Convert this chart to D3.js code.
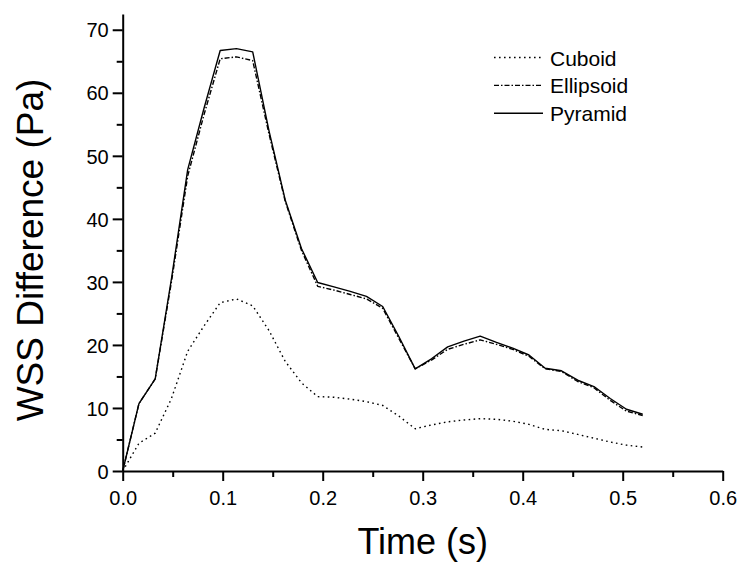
<!DOCTYPE html>
<html>
<head>
<meta charset="utf-8">
<script src="https://cdn.jsdelivr.net/npm/d3@7"></script>
<style>
  html, body { margin: 0; padding: 0; background: #fff; }
  svg { display: block; font-family: "Liberation Sans", Arial, sans-serif; }
</style>
</head>
<body>
<svg id="chart" width="737" height="563"></svg>
<script>
// ---- data ----
const time = [0, 0.01625, 0.0325, 0.04875, 0.065, 0.08125, 0.0975, 0.11375, 0.13, 0.14625,
  0.1625, 0.17875, 0.195, 0.21125, 0.2275, 0.24375, 0.26, 0.27625, 0.2925, 0.30875,
  0.325, 0.34125, 0.3575, 0.37375, 0.39, 0.40625, 0.4225, 0.43875, 0.455, 0.47125,
  0.4875, 0.50375, 0.52];
const cuboid = [0, 4.4, 6.0, 11.5, 19.0, 23.0, 26.7, 27.3, 26.2, 22.3,
  17.4, 14.0, 11.8, 11.7, 11.4, 11.0, 10.4, 8.7, 6.7, 7.3,
  7.8, 8.1, 8.3, 8.2, 7.9, 7.4, 6.6, 6.4, 5.8, 5.2,
  4.6, 4.1, 3.8];
const ellipsoid = [0, 10.7, 14.6, 30.0, 46.8, 56.5, 65.4, 65.7, 65.1, 53.5,
  42.8, 35.0, 29.3, 28.7, 28.0, 27.3, 25.8, 21.0, 16.2, 17.6,
  19.3, 20.1, 20.8, 20.1, 19.3, 18.2, 16.2, 15.8, 14.2, 13.2,
  11.2, 9.5, 8.8];
const pyramid = [0, 10.7, 14.6, 30.5, 47.8, 57.5, 66.7, 67.0, 66.5, 54.0,
  43.0, 35.3, 29.9, 29.2, 28.5, 27.7, 26.1, 21.3, 16.2, 17.8,
  19.7, 20.6, 21.4, 20.4, 19.5, 18.4, 16.3, 15.9, 14.4, 13.4,
  11.5, 9.8, 9.0];
const seriesNames = ["Cuboid", "Ellipsoid", "Pyramid"];
const xTicks = [0, 0.1, 0.2, 0.3, 0.4, 0.5, 0.6];
const yTicks = [0, 10, 20, 30, 40, 50, 60, 70];

// ---- layout ----
const svg = d3.select("#chart");
const x = d3.scaleLinear().domain([0, 0.6]).range([122.7, 722.7]);
const y = d3.scaleLinear().domain([0, 72.5]).range([471, 14]);

const dashes = { Cuboid: "1.6,3.4", Ellipsoid: "5,2,1.5,2", Pyramid: null };
const series = [
  { name: "Cuboid", values: cuboid },
  { name: "Ellipsoid", values: ellipsoid },
  { name: "Pyramid", values: pyramid }
];

// lines
const line = d3.line().x((d, i) => x(time[i])).y(d => y(d));
svg.append("g").selectAll("path").data(series).join("path")
  .attr("d", d => line(d.values))
  .attr("fill", "none")
  .attr("stroke", "#000")
  .attr("stroke-width", 1.4)
  .attr("stroke-linejoin", "round")
  .attr("stroke-dasharray", d => dashes[d.name]);

// minor ticks
const xMinor = d3.range(0.05, 0.6, 0.1);
const yMinor = d3.range(5, 72, 10);

const gx = svg.append("g").attr("transform", `translate(0,${y(0)})`);
gx.call(d3.axisBottom(x).tickValues(xTicks).tickFormat(d3.format(".1f")).tickSize(10).tickSizeOuter(0));
gx.append("g").call(d3.axisBottom(x).tickValues(xMinor).tickFormat("").tickSize(6).tickSizeOuter(0))
  .select(".domain").remove();

const gy = svg.append("g").attr("transform", `translate(${x(0)},0)`);
gy.call(d3.axisLeft(y).tickValues(yTicks).tickFormat(d3.format("d")).tickSize(10).tickSizeOuter(0));
gy.append("g").call(d3.axisLeft(y).tickValues(yMinor).tickFormat("").tickSize(6).tickSizeOuter(0))
  .select(".domain").remove();

svg.selectAll(".domain").attr("stroke", "#000").attr("stroke-width", 2);
svg.selectAll(".tick line").attr("stroke", "#000").attr("stroke-width", 2);
gx.selectAll(".tick text").attr("font-size", 20).attr("font-family", "Liberation Sans, Arial, sans-serif").attr("dy", "1.05em").attr("fill", "#000");
gy.selectAll(".tick text").attr("font-size", 20).attr("font-family", "Liberation Sans, Arial, sans-serif").attr("x", -14).attr("dy", "0.36em").attr("fill", "#000");

// axis titles
svg.append("text")
  .attr("x", (x(0) + x(0.6)) / 2).attr("y", 554)
  .attr("text-anchor", "middle").attr("font-size", 36)
  .text("Time (s)");
svg.append("text")
  .attr("transform", "translate(43,250) rotate(-90)")
  .attr("text-anchor", "middle").attr("font-size", 37)
  .text("WSS Difference (Pa)");

// legend
const lg = svg.append("g").attr("transform", "translate(494,57.5)");
const items = lg.selectAll("g").data(seriesNames).join("g")
  .attr("transform", (d, i) => `translate(0,${i * 27.9})`);
items.append("line").attr("x1", 0).attr("x2", 49).attr("y1", 0).attr("y2", 0)
  .attr("stroke", "#000").attr("stroke-width", 1.4)
  .attr("stroke-dasharray", d => dashes[d]);
items.append("text").attr("x", 56).attr("y", 8).attr("font-size", 21).text(d => d);
</script>
</body>
</html>
